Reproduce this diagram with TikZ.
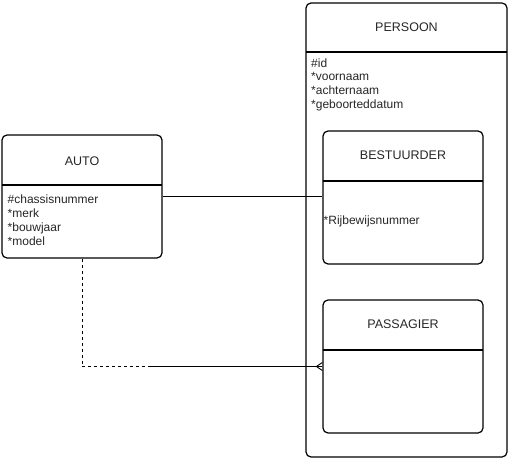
\documentclass[tikz,border=0pt]{standalone}
\usepackage{fontspec}
\setmainfont{Liberation Sans}
\usetikzlibrary{calc}
\begin{document}
\begin{tikzpicture}[x=1pt,y=-1pt,
  ent/.style={draw, line width=1.2pt, rounded corners=5pt, inner sep=0pt},
  ttl/.style={font=\fontsize{12.5}{14}\selectfont, text=black!85, inner sep=0pt},
  attr/.style={font=\fontsize{12}{14}\selectfont, text=black!85, anchor=west, inner sep=0pt, text height=8.5pt, text depth=2.5pt},
  sep/.style={line width=1.2pt},
  conn/.style={line width=0.9pt}]
\useasboundingbox (0,0) rectangle (509,460);
% PERSOON
\node[ent, minimum width=201pt, minimum height=454pt] (per) at (406.5,230) {};
\draw[sep] (306,52) -- (507,52);
\node[ttl] (perT) at (406.5,27) {PERSOON};
\node[attr] (pa1) at (311,64) {\#id};
\node[attr] (pa2) at (311,78) {*voornaam};
\node[attr] (pa3) at (311,92) {*achternaam};
\node[attr] (pa4) at (311,106) {*geboorteddatum};
% BESTUURDER
\node[ent, minimum width=160pt, minimum height=133pt] (best) at (403,197.5) {};
\draw[sep] (323,181) -- (483,181);
\node[ttl] (bestT) at (403,155) {BESTUURDER};
\node[attr] (ba1) at (323.5,221) {*Rijbewijsnummer};
% PASSAGIER
\node[ent, minimum width=160pt, minimum height=133pt] (pas) at (403,366.5) {};
\draw[sep] (323,350) -- (483,350);
\node[ttl] (pasT) at (403,324.5) {PASSAGIER};
% AUTO
\node[ent, minimum width=160pt, minimum height=123pt] (auto) at (82,196.5) {};
\draw[sep] (2,185) -- (162,185);
\node[ttl] (autoT) at (82,161) {AUTO};
\node[attr] (aa1) at (7.5,200) {\#chassisnummer};
\node[attr] (aa2) at (7.5,214) {*merk};
\node[attr] (aa3) at (7.5,228) {*bouwjaar};
\node[attr] (aa4) at (7.5,242) {*model};
% connectors
\draw[conn] (auto.east) -- (auto.east -| best.west);
\coordinate (j) at (150,366.5);
\draw[conn, dashed, dash pattern=on 3pt off 3pt] (auto.south) -- (auto.south |- pas.west) -- (j);
\draw[conn] (j) -- (pas.west);
\draw[conn] ($(pas.west)+(-6,0)$) -- ($(pas.west)+(0,-4)$);
\draw[conn] ($(pas.west)+(-6,0)$) -- ($(pas.west)+(0,4)$);
\end{tikzpicture}
\end{document}
